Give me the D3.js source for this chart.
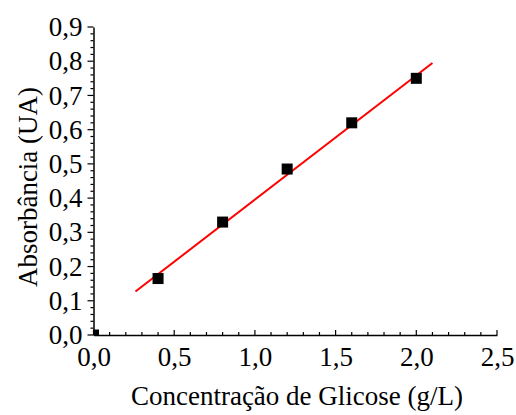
<!DOCTYPE html>
<html><head><meta charset="utf-8">
<script src="https://cdn.jsdelivr.net/npm/d3@7"></script>
<style>body{margin:0;background:#fff}svg{display:block}</style>
</head><body>
<svg id="c" width="516" height="415" font-family="Liberation Serif" font-size="27"></svg>
<script>
const concX = [0.0, 0.4, 0.8, 1.2, 1.6, 2.0];
const absY = [0.0, 0.165, 0.33, 0.485, 0.62, 0.75];
const fitX = [0.26, 2.1];
const fitY = [0.127, 0.795];
const xTicks = [0, 0.5, 1.0, 1.5, 2.0, 2.5];
const yTicks = [0, 0.1, 0.2, 0.3, 0.4, 0.5, 0.6, 0.7, 0.8, 0.9];

const svg = d3.select("#c");
const L = 93.5, R = 497, T = 27, B = 335;
const x = d3.scaleLinear().domain([0, 2.5]).range([L, R]);
const y = d3.scaleLinear().domain([0, 0.9]).range([B, T]);
const fmt = d => d3.format(".1f")(d).replace(".", ",");
const FONT = "Liberation Serif, Times New Roman, serif";
const FS = 27;

svg.append("defs").append("clipPath").attr("id","clip")
  .append("rect").attr("x", L).attr("y", T-10).attr("width", R-L+10).attr("height", B-T+10);

const xMinor = d3.range(0, 2.5001, 0.1);
const yMinor = d3.range(0, 0.9001, 0.02);

const gx = svg.append("g").attr("transform", `translate(0,${B})`);
gx.call(d3.axisBottom(x).tickValues(xTicks).tickFormat(fmt).tickSize(0).tickPadding(0));
gx.attr("font-family", FONT).attr("font-size", FS);
gx.select(".domain").attr("stroke", "#000").attr("stroke-width", 1.5);
gx.selectAll(".tick text").attr("fill", "#000").attr("dy", null).attr("y", 31);
gx.selectAll(".minor").data(xMinor).enter().append("line")
  .attr("x1", d => x(d)).attr("x2", d => x(d)).attr("y1", 0)
  .attr("y2", d => (Math.abs(d*2 - Math.round(d*2)) < 1e-6) ? -5 : -3)
  .attr("stroke", "#000").attr("stroke-width", 1.2);

const gy = svg.append("g").attr("transform", `translate(${L},0)`);
gy.call(d3.axisLeft(y).tickValues(yTicks).tickFormat(fmt).tickSize(0).tickPadding(11));
gy.attr("font-family", FONT).attr("font-size", FS);
gy.select(".domain").attr("stroke", "#000").attr("stroke-width", 1.5);
gy.selectAll(".tick text").attr("fill", "#000");
gy.selectAll(".minor").data(yMinor).enter().append("line")
  .attr("y1", d => y(d)).attr("y2", d => y(d)).attr("x1", 0)
  .attr("x2", d => (Math.abs(d*10 - Math.round(d*10)) < 1e-6) ? -6 : -3)
  .attr("stroke", "#000").attr("stroke-width", 1.2);

svg.append("line")
  .attr("x1", x(fitX[0])).attr("y1", y(fitY[0]))
  .attr("x2", x(fitX[1])).attr("y2", y(fitY[1]))
  .attr("stroke", "#ff0000").attr("stroke-width", 2);

const s = 11;
svg.append("g").attr("clip-path","url(#clip)").selectAll("rect").data(concX).enter().append("rect")
  .attr("x", (d) => x(d) - s/2).attr("y", (d,i) => y(absY[i]) - s/2)
  .attr("width", s).attr("height", s).attr("fill", "#000");

svg.append("text").attr("x", 297).attr("y", 405).attr("text-anchor","middle")
  .attr("font-family", FONT).attr("font-size", FS)
  .text("Concentração de Glicose (g/L)");
svg.append("text").attr("transform", `translate(37,187) rotate(-90)`).attr("text-anchor","middle")
  .attr("font-family", FONT).attr("font-size", FS)
  .text("Absorbância (UA)");
</script>
</body></html>
